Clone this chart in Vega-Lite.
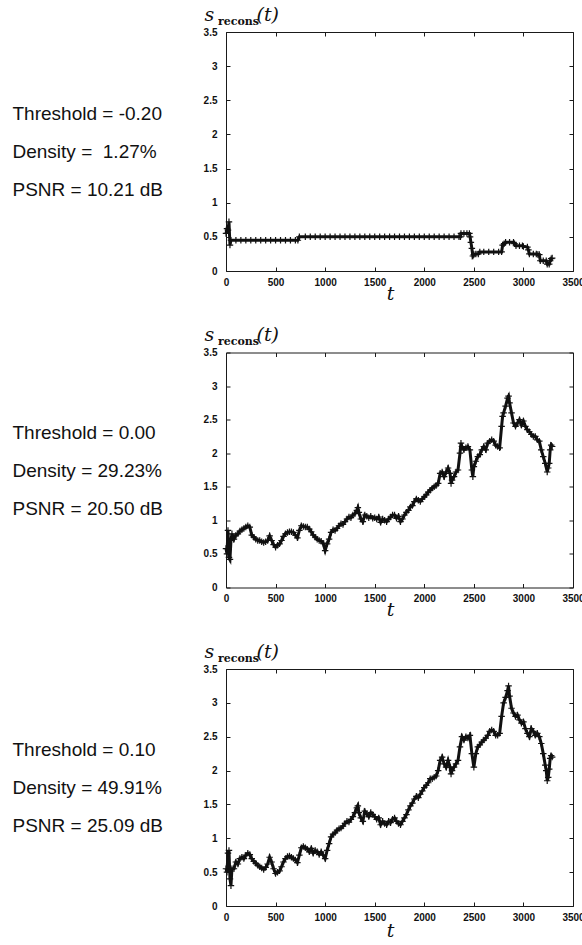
{
  "$schema": "https://vega.github.io/schema/vega-lite/v6.json",
  "background": "white",
  "padding": {"left": 11, "top": 4, "right": 0, "bottom": 0},
  "bounds": "flush",
  "spacing": 81.5,
  "config": {
    "view": {"stroke": "#1a1a1a", "strokeWidth": 1},
    "axis": {
      "domain": false, "grid": false, "ticks": true, "tickSize": -4, "tickColor": "#1a1a1a", "tickWidth": 1,
      "labelFont": "Liberation Sans", "labelFontWeight": "bold", "labelFontSize": 10, "labelColor": "#111",
      "labelFlush": false, "labelOverlap": false
    }
  },
  "datasets": {
    "s": [
      {"p":1,"t":0,"v":0.55},{"p":1,"t":10,"v":0.62},{"p":1,"t":20,"v":0.60},{"p":1,"t":30,"v":0.72},{"p":1,"t":40,"v":0.38},
      {"p":1,"t":50,"v":0.45},{"p":1,"t":100,"v":0.45},{"p":1,"t":150,"v":0.45},{"p":1,"t":200,"v":0.45},{"p":1,"t":250,"v":0.45},
      {"p":1,"t":300,"v":0.45},{"p":1,"t":350,"v":0.45},{"p":1,"t":400,"v":0.45},{"p":1,"t":450,"v":0.45},{"p":1,"t":500,"v":0.45},
      {"p":1,"t":550,"v":0.45},{"p":1,"t":600,"v":0.45},{"p":1,"t":650,"v":0.45},{"p":1,"t":700,"v":0.45},{"p":1,"t":725,"v":0.45},
      {"p":1,"t":740,"v":0.50},{"p":1,"t":800,"v":0.50},{"p":1,"t":850,"v":0.50},{"p":1,"t":900,"v":0.50},{"p":1,"t":950,"v":0.50},
      {"p":1,"t":1000,"v":0.50},{"p":1,"t":1050,"v":0.50},{"p":1,"t":1100,"v":0.50},{"p":1,"t":1150,"v":0.50},{"p":1,"t":1200,"v":0.50},
      {"p":1,"t":1250,"v":0.50},{"p":1,"t":1300,"v":0.50},{"p":1,"t":1350,"v":0.50},{"p":1,"t":1400,"v":0.50},{"p":1,"t":1450,"v":0.50},
      {"p":1,"t":1500,"v":0.50},{"p":1,"t":1550,"v":0.50},{"p":1,"t":1600,"v":0.50},{"p":1,"t":1650,"v":0.50},{"p":1,"t":1700,"v":0.50},
      {"p":1,"t":1750,"v":0.50},{"p":1,"t":1800,"v":0.50},{"p":1,"t":1850,"v":0.50},{"p":1,"t":1900,"v":0.50},{"p":1,"t":1950,"v":0.50},
      {"p":1,"t":2000,"v":0.50},{"p":1,"t":2050,"v":0.50},{"p":1,"t":2100,"v":0.50},{"p":1,"t":2150,"v":0.50},{"p":1,"t":2200,"v":0.50},
      {"p":1,"t":2250,"v":0.50},{"p":1,"t":2300,"v":0.50},{"p":1,"t":2350,"v":0.50},{"p":1,"t":2365,"v":0.50},
      {"p":1,"t":2370,"v":0.55},{"p":1,"t":2400,"v":0.55},{"p":1,"t":2430,"v":0.55},{"p":1,"t":2455,"v":0.55},
      {"p":1,"t":2462,"v":0.50},{"p":1,"t":2470,"v":0.42},{"p":1,"t":2480,"v":0.33},{"p":1,"t":2490,"v":0.22},{"p":1,"t":2500,"v":0.24},
      {"p":1,"t":2520,"v":0.25},{"p":1,"t":2545,"v":0.25},{"p":1,"t":2560,"v":0.28},{"p":1,"t":2600,"v":0.28},{"p":1,"t":2650,"v":0.28},
      {"p":1,"t":2700,"v":0.28},{"p":1,"t":2750,"v":0.28},{"p":1,"t":2780,"v":0.28},{"p":1,"t":2790,"v":0.38},{"p":1,"t":2805,"v":0.40},
      {"p":1,"t":2820,"v":0.42},{"p":1,"t":2860,"v":0.42},{"p":1,"t":2900,"v":0.42},{"p":1,"t":2910,"v":0.40},{"p":1,"t":2925,"v":0.37},
      {"p":1,"t":2960,"v":0.37},{"p":1,"t":2990,"v":0.37},{"p":1,"t":3000,"v":0.36},{"p":1,"t":3040,"v":0.35},{"p":1,"t":3050,"v":0.31},
      {"p":1,"t":3060,"v":0.25},{"p":1,"t":3100,"v":0.25},{"p":1,"t":3130,"v":0.25},{"p":1,"t":3145,"v":0.24},{"p":1,"t":3160,"v":0.24},
      {"p":1,"t":3170,"v":0.15},{"p":1,"t":3200,"v":0.15},{"p":1,"t":3230,"v":0.15},{"p":1,"t":3240,"v":0.10},{"p":1,"t":3260,"v":0.10},
      {"p":1,"t":3270,"v":0.15},{"p":1,"t":3280,"v":0.18},{"p":1,"t":3290,"v":0.19},

      {"p":2,"t":0,"v":0.58},{"p":2,"t":10,"v":0.50},{"p":2,"t":20,"v":0.85},{"p":2,"t":30,"v":0.45},{"p":2,"t":40,"v":0.42},
      {"p":2,"t":50,"v":0.70},{"p":2,"t":60,"v":0.80},{"p":2,"t":80,"v":0.72},{"p":2,"t":100,"v":0.78},{"p":2,"t":120,"v":0.80},
      {"p":2,"t":140,"v":0.84},{"p":2,"t":160,"v":0.86},{"p":2,"t":180,"v":0.88},{"p":2,"t":200,"v":0.90},{"p":2,"t":220,"v":0.92},
      {"p":2,"t":240,"v":0.90},{"p":2,"t":260,"v":0.78},{"p":2,"t":280,"v":0.75},{"p":2,"t":300,"v":0.72},{"p":2,"t":320,"v":0.70},
      {"p":2,"t":340,"v":0.70},{"p":2,"t":360,"v":0.68},{"p":2,"t":380,"v":0.67},{"p":2,"t":400,"v":0.68},{"p":2,"t":420,"v":0.70},
      {"p":2,"t":440,"v":0.77},{"p":2,"t":460,"v":0.70},{"p":2,"t":480,"v":0.64},{"p":2,"t":500,"v":0.60},{"p":2,"t":520,"v":0.63},
      {"p":2,"t":540,"v":0.65},{"p":2,"t":560,"v":0.70},{"p":2,"t":580,"v":0.76},{"p":2,"t":600,"v":0.80},{"p":2,"t":620,"v":0.82},
      {"p":2,"t":640,"v":0.83},{"p":2,"t":660,"v":0.83},{"p":2,"t":680,"v":0.82},{"p":2,"t":700,"v":0.78},{"p":2,"t":720,"v":0.74},
      {"p":2,"t":740,"v":0.85},{"p":2,"t":760,"v":0.92},{"p":2,"t":780,"v":0.91},{"p":2,"t":800,"v":0.90},{"p":2,"t":820,"v":0.90},
      {"p":2,"t":840,"v":0.87},{"p":2,"t":860,"v":0.83},{"p":2,"t":880,"v":0.78},{"p":2,"t":900,"v":0.75},{"p":2,"t":920,"v":0.72},
      {"p":2,"t":940,"v":0.70},{"p":2,"t":960,"v":0.69},{"p":2,"t":980,"v":0.66},{"p":2,"t":1000,"v":0.55},{"p":2,"t":1020,"v":0.65},
      {"p":2,"t":1040,"v":0.72},{"p":2,"t":1060,"v":0.82},{"p":2,"t":1080,"v":0.86},{"p":2,"t":1100,"v":0.85},{"p":2,"t":1120,"v":0.88},
      {"p":2,"t":1140,"v":0.92},{"p":2,"t":1160,"v":0.95},{"p":2,"t":1180,"v":0.94},{"p":2,"t":1200,"v":0.98},{"p":2,"t":1220,"v":1.02},
      {"p":2,"t":1240,"v":1.05},{"p":2,"t":1260,"v":1.04},{"p":2,"t":1280,"v":1.08},{"p":2,"t":1300,"v":1.10},{"p":2,"t":1320,"v":1.15},
      {"p":2,"t":1330,"v":1.19},{"p":2,"t":1340,"v":1.12},{"p":2,"t":1360,"v":1.02},{"p":2,"t":1380,"v":0.98},{"p":2,"t":1400,"v":1.08},
      {"p":2,"t":1420,"v":1.06},{"p":2,"t":1440,"v":1.04},{"p":2,"t":1460,"v":1.06},{"p":2,"t":1480,"v":1.03},{"p":2,"t":1500,"v":1.04},
      {"p":2,"t":1520,"v":1.02},{"p":2,"t":1540,"v":1.05},{"p":2,"t":1560,"v":0.97},{"p":2,"t":1580,"v":1.02},{"p":2,"t":1600,"v":1.00},
      {"p":2,"t":1620,"v":0.98},{"p":2,"t":1640,"v":1.02},{"p":2,"t":1660,"v":1.05},{"p":2,"t":1680,"v":1.08},{"p":2,"t":1700,"v":1.08},
      {"p":2,"t":1720,"v":1.03},{"p":2,"t":1740,"v":1.06},{"p":2,"t":1760,"v":0.98},{"p":2,"t":1780,"v":1.02},{"p":2,"t":1800,"v":1.08},
      {"p":2,"t":1820,"v":1.12},{"p":2,"t":1840,"v":1.15},{"p":2,"t":1860,"v":1.20},{"p":2,"t":1880,"v":1.22},{"p":2,"t":1900,"v":1.28},
      {"p":2,"t":1920,"v":1.32},{"p":2,"t":1940,"v":1.30},{"p":2,"t":1960,"v":1.28},{"p":2,"t":1980,"v":1.32},{"p":2,"t":2000,"v":1.35},
      {"p":2,"t":2020,"v":1.38},{"p":2,"t":2040,"v":1.42},{"p":2,"t":2060,"v":1.45},{"p":2,"t":2080,"v":1.48},{"p":2,"t":2100,"v":1.50},
      {"p":2,"t":2120,"v":1.52},{"p":2,"t":2140,"v":1.55},{"p":2,"t":2160,"v":1.70},{"p":2,"t":2180,"v":1.72},{"p":2,"t":2200,"v":1.65},
      {"p":2,"t":2220,"v":1.72},{"p":2,"t":2240,"v":1.78},{"p":2,"t":2260,"v":1.70},{"p":2,"t":2270,"v":1.55},{"p":2,"t":2280,"v":1.60},
      {"p":2,"t":2300,"v":1.65},{"p":2,"t":2320,"v":1.72},{"p":2,"t":2340,"v":1.75},{"p":2,"t":2360,"v":2.00},{"p":2,"t":2370,"v":2.15},
      {"p":2,"t":2380,"v":2.10},{"p":2,"t":2400,"v":2.05},{"p":2,"t":2420,"v":2.08},{"p":2,"t":2440,"v":2.10},{"p":2,"t":2460,"v":2.05},
      {"p":2,"t":2480,"v":1.75},{"p":2,"t":2490,"v":1.65},{"p":2,"t":2500,"v":1.80},{"p":2,"t":2520,"v":1.88},{"p":2,"t":2540,"v":1.95},
      {"p":2,"t":2560,"v":1.98},{"p":2,"t":2580,"v":2.05},{"p":2,"t":2600,"v":2.10},{"p":2,"t":2620,"v":2.05},{"p":2,"t":2640,"v":2.15},
      {"p":2,"t":2660,"v":2.18},{"p":2,"t":2680,"v":2.20},{"p":2,"t":2700,"v":2.18},{"p":2,"t":2720,"v":2.12},{"p":2,"t":2740,"v":2.10},
      {"p":2,"t":2760,"v":2.08},{"p":2,"t":2780,"v":2.40},{"p":2,"t":2790,"v":2.55},{"p":2,"t":2800,"v":2.60},{"p":2,"t":2820,"v":2.70},
      {"p":2,"t":2840,"v":2.82},{"p":2,"t":2850,"v":2.85},{"p":2,"t":2860,"v":2.75},{"p":2,"t":2880,"v":2.60},{"p":2,"t":2900,"v":2.45},
      {"p":2,"t":2920,"v":2.40},{"p":2,"t":2940,"v":2.45},{"p":2,"t":2960,"v":2.50},{"p":2,"t":2980,"v":2.42},{"p":2,"t":3000,"v":2.48},
      {"p":2,"t":3020,"v":2.40},{"p":2,"t":3040,"v":2.35},{"p":2,"t":3060,"v":2.32},{"p":2,"t":3080,"v":2.28},{"p":2,"t":3100,"v":2.25},
      {"p":2,"t":3120,"v":2.25},{"p":2,"t":3140,"v":2.20},{"p":2,"t":3160,"v":2.18},{"p":2,"t":3180,"v":2.05},{"p":2,"t":3200,"v":1.95},
      {"p":2,"t":3220,"v":1.85},{"p":2,"t":3240,"v":1.72},{"p":2,"t":3250,"v":1.78},{"p":2,"t":3260,"v":1.85},{"p":2,"t":3270,"v":2.05},
      {"p":2,"t":3280,"v":2.12},{"p":2,"t":3290,"v":2.10},

      {"p":3,"t":0,"v":0.55},{"p":3,"t":10,"v":0.50},{"p":3,"t":20,"v":0.78},{"p":3,"t":30,"v":0.82},{"p":3,"t":40,"v":0.40},
      {"p":3,"t":50,"v":0.30},{"p":3,"t":60,"v":0.55},{"p":3,"t":80,"v":0.55},{"p":3,"t":100,"v":0.65},{"p":3,"t":120,"v":0.62},
      {"p":3,"t":140,"v":0.70},{"p":3,"t":160,"v":0.72},{"p":3,"t":180,"v":0.70},{"p":3,"t":200,"v":0.75},{"p":3,"t":220,"v":0.78},
      {"p":3,"t":240,"v":0.76},{"p":3,"t":260,"v":0.70},{"p":3,"t":280,"v":0.66},{"p":3,"t":300,"v":0.63},{"p":3,"t":320,"v":0.60},
      {"p":3,"t":340,"v":0.58},{"p":3,"t":360,"v":0.56},{"p":3,"t":380,"v":0.54},{"p":3,"t":400,"v":0.57},{"p":3,"t":420,"v":0.62},
      {"p":3,"t":440,"v":0.72},{"p":3,"t":460,"v":0.65},{"p":3,"t":480,"v":0.55},{"p":3,"t":500,"v":0.48},{"p":3,"t":520,"v":0.50},
      {"p":3,"t":540,"v":0.52},{"p":3,"t":560,"v":0.58},{"p":3,"t":580,"v":0.65},{"p":3,"t":600,"v":0.70},{"p":3,"t":620,"v":0.73},
      {"p":3,"t":640,"v":0.74},{"p":3,"t":660,"v":0.72},{"p":3,"t":680,"v":0.70},{"p":3,"t":700,"v":0.68},{"p":3,"t":720,"v":0.64},
      {"p":3,"t":740,"v":0.75},{"p":3,"t":760,"v":0.86},{"p":3,"t":780,"v":0.88},{"p":3,"t":800,"v":0.86},{"p":3,"t":820,"v":0.84},
      {"p":3,"t":840,"v":0.80},{"p":3,"t":860,"v":0.85},{"p":3,"t":880,"v":0.78},{"p":3,"t":900,"v":0.82},{"p":3,"t":920,"v":0.80},
      {"p":3,"t":940,"v":0.76},{"p":3,"t":960,"v":0.80},{"p":3,"t":980,"v":0.75},{"p":3,"t":1000,"v":0.70},{"p":3,"t":1020,"v":0.82},
      {"p":3,"t":1040,"v":0.92},{"p":3,"t":1060,"v":1.02},{"p":3,"t":1080,"v":1.06},{"p":3,"t":1100,"v":1.08},{"p":3,"t":1120,"v":1.12},
      {"p":3,"t":1140,"v":1.14},{"p":3,"t":1160,"v":1.15},{"p":3,"t":1180,"v":1.18},{"p":3,"t":1200,"v":1.22},{"p":3,"t":1220,"v":1.25},
      {"p":3,"t":1240,"v":1.24},{"p":3,"t":1260,"v":1.28},{"p":3,"t":1280,"v":1.32},{"p":3,"t":1300,"v":1.38},{"p":3,"t":1320,"v":1.45},
      {"p":3,"t":1330,"v":1.48},{"p":3,"t":1340,"v":1.38},{"p":3,"t":1360,"v":1.30},{"p":3,"t":1380,"v":1.25},{"p":3,"t":1400,"v":1.40},
      {"p":3,"t":1420,"v":1.36},{"p":3,"t":1440,"v":1.32},{"p":3,"t":1460,"v":1.38},{"p":3,"t":1480,"v":1.35},{"p":3,"t":1500,"v":1.32},
      {"p":3,"t":1520,"v":1.28},{"p":3,"t":1540,"v":1.30},{"p":3,"t":1560,"v":1.20},{"p":3,"t":1580,"v":1.25},{"p":3,"t":1600,"v":1.22},
      {"p":3,"t":1620,"v":1.20},{"p":3,"t":1640,"v":1.25},{"p":3,"t":1660,"v":1.23},{"p":3,"t":1680,"v":1.28},{"p":3,"t":1700,"v":1.30},
      {"p":3,"t":1720,"v":1.25},{"p":3,"t":1740,"v":1.22},{"p":3,"t":1760,"v":1.20},{"p":3,"t":1780,"v":1.25},{"p":3,"t":1800,"v":1.30},
      {"p":3,"t":1820,"v":1.35},{"p":3,"t":1840,"v":1.42},{"p":3,"t":1860,"v":1.48},{"p":3,"t":1880,"v":1.52},{"p":3,"t":1900,"v":1.58},
      {"p":3,"t":1920,"v":1.62},{"p":3,"t":1940,"v":1.60},{"p":3,"t":1960,"v":1.65},{"p":3,"t":1980,"v":1.70},{"p":3,"t":2000,"v":1.75},
      {"p":3,"t":2020,"v":1.78},{"p":3,"t":2040,"v":1.82},{"p":3,"t":2060,"v":1.88},{"p":3,"t":2080,"v":1.88},{"p":3,"t":2100,"v":1.90},
      {"p":3,"t":2120,"v":1.92},{"p":3,"t":2140,"v":2.00},{"p":3,"t":2160,"v":2.15},{"p":3,"t":2180,"v":2.20},{"p":3,"t":2200,"v":2.10},
      {"p":3,"t":2220,"v":2.05},{"p":3,"t":2240,"v":2.15},{"p":3,"t":2260,"v":2.05},{"p":3,"t":2270,"v":1.95},{"p":3,"t":2280,"v":2.00},
      {"p":3,"t":2300,"v":2.05},{"p":3,"t":2320,"v":2.10},{"p":3,"t":2340,"v":2.15},{"p":3,"t":2360,"v":2.35},{"p":3,"t":2380,"v":2.50},
      {"p":3,"t":2400,"v":2.45},{"p":3,"t":2420,"v":2.50},{"p":3,"t":2440,"v":2.48},{"p":3,"t":2460,"v":2.52},{"p":3,"t":2480,"v":2.25},
      {"p":3,"t":2500,"v":2.05},{"p":3,"t":2520,"v":2.25},{"p":3,"t":2540,"v":2.35},{"p":3,"t":2560,"v":2.38},{"p":3,"t":2580,"v":2.42},
      {"p":3,"t":2600,"v":2.45},{"p":3,"t":2620,"v":2.48},{"p":3,"t":2640,"v":2.52},{"p":3,"t":2660,"v":2.58},{"p":3,"t":2680,"v":2.60},
      {"p":3,"t":2700,"v":2.58},{"p":3,"t":2720,"v":2.52},{"p":3,"t":2740,"v":2.52},{"p":3,"t":2760,"v":2.55},{"p":3,"t":2780,"v":2.80},
      {"p":3,"t":2800,"v":3.00},{"p":3,"t":2820,"v":3.08},{"p":3,"t":2840,"v":3.18},{"p":3,"t":2850,"v":3.25},{"p":3,"t":2860,"v":3.10},
      {"p":3,"t":2880,"v":2.92},{"p":3,"t":2900,"v":2.85},{"p":3,"t":2920,"v":2.80},{"p":3,"t":2940,"v":2.82},{"p":3,"t":2960,"v":2.75},
      {"p":3,"t":2980,"v":2.70},{"p":3,"t":3000,"v":2.72},{"p":3,"t":3020,"v":2.62},{"p":3,"t":3040,"v":2.55},{"p":3,"t":3060,"v":2.50},
      {"p":3,"t":3080,"v":2.62},{"p":3,"t":3100,"v":2.58},{"p":3,"t":3120,"v":2.52},{"p":3,"t":3140,"v":2.55},{"p":3,"t":3160,"v":2.50},
      {"p":3,"t":3180,"v":2.40},{"p":3,"t":3200,"v":2.25},{"p":3,"t":3220,"v":2.08},{"p":3,"t":3230,"v":2.00},{"p":3,"t":3240,"v":1.85},
      {"p":3,"t":3250,"v":1.90},{"p":3,"t":3260,"v":2.02},{"p":3,"t":3270,"v":2.18},{"p":3,"t":3280,"v":2.22},{"p":3,"t":3290,"v":2.20}
    ]
  },
  "vconcat": [
    {
      "width": 347, "height": 239,
      "data": {"name": "s"},
      "transform": [{"filter": "datum.p == 1"}],
      "title": {"text": "recons", "anchor": "start", "frame": "group", "font": "DejaVu Serif", "fontWeight": "bold", "fontSize": 11, "color": "#111", "baseline": "alphabetic", "offset": 0, "dx": -8, "dy": 30.5},
      "layer": [
        {
          "mark": {"type": "line", "color": "#111", "strokeWidth": 3},
          "encoding": {
            "x": {"field": "t", "type": "quantitative", "scale": {"domain": [0, 3500], "nice": false},
              "axis": {"orient": "bottom", "values": [0,500,1000,1500,2000,2500,3000,3500], "format": "d", "labelPadding": 10,
                "title": "t", "titleFont": "DejaVu Serif", "titleFontStyle": "italic", "titleFontWeight": "normal", "titleFontSize": 19, "titleColor": "#111",
                "titleX": 164, "titleY": 28, "titleAlign": "center", "titleBaseline": "alphabetic"}},
            "y": {"field": "v", "type": "quantitative", "scale": {"domain": [0, 3.5], "nice": false},
              "axis": {"orient": "left", "values": [0,0.5,1,1.5,2,2.5,3,3.5], "format": "~g", "labelPadding": 13,
                "title": ["Threshold = -0.20", "Density = \u00a01.27%", "PSNR = 10.21 dB"],
                "titleFont": "Liberation Sans", "titleFontSize": 19, "titleFontWeight": "normal", "titleColor": "#111", "titleAngle": 0,
                "titleAlign": "left", "titleBaseline": "middle", "titleLineHeight": 38, "titleX": -214, "titleY": 81.5}}
          }
        },
        {
          "mark": {"type": "point", "shape": "M-1,0H1M0,-1V1", "filled": false, "stroke": "#111", "strokeWidth": 1.2, "size": 42, "opacity": 1},
          "encoding": {
            "x": {"field": "t", "type": "quantitative", "scale": {"domain": [0, 3500], "nice": false},
              "axis": {"orient": "top", "values": [0,500,1000,1500,2000,2500,3000,3500], "labels": false,
                "title": "(t)", "titleFont": "DejaVu Serif", "titleFontStyle": "italic", "titleFontWeight": "normal", "titleFontSize": 19, "titleColor": "#111",
                "titleX": 30, "titleY": -12, "titleAlign": "left", "titleBaseline": "alphabetic"}},
            "y": {"field": "v", "type": "quantitative", "scale": {"domain": [0, 3.5], "nice": false},
              "axis": {"orient": "right", "values": [0,0.5,1,1.5,2,2.5,3,3.5], "labels": false,
                "title": "s", "titleFont": "DejaVu Serif", "titleFontStyle": "italic", "titleFontWeight": "normal", "titleFontSize": 19, "titleColor": "#111",
                "titleAngle": 0, "titleX": -369, "titleY": -12, "titleAlign": "left", "titleBaseline": "alphabetic"}}
          }
        }
      ],
      "resolve": {"axis": {"x": "independent", "y": "independent"}}
    },
    {
      "width": 347, "height": 235,
      "data": {"name": "s"},
      "transform": [{"filter": "datum.p == 2"}],
      "title": {"text": "recons", "anchor": "start", "frame": "group", "font": "DejaVu Serif", "fontWeight": "bold", "fontSize": 11, "color": "#111", "baseline": "alphabetic", "offset": 0, "dx": -8, "dy": 30.5},
      "layer": [
        {
          "mark": {"type": "line", "color": "#111", "strokeWidth": 3},
          "encoding": {
            "x": {"field": "t", "type": "quantitative", "scale": {"domain": [0, 3500], "nice": false},
              "axis": {"orient": "bottom", "values": [0,500,1000,1500,2000,2500,3000,3500], "format": "d", "labelPadding": 10,
                "title": "t", "titleFont": "DejaVu Serif", "titleFontStyle": "italic", "titleFontWeight": "normal", "titleFontSize": 19, "titleColor": "#111",
                "titleX": 164, "titleY": 28, "titleAlign": "center", "titleBaseline": "alphabetic"}},
            "y": {"field": "v", "type": "quantitative", "scale": {"domain": [0, 3.5], "nice": false},
              "axis": {"orient": "left", "values": [0,0.5,1,1.5,2,2.5,3,3.5], "format": "~g", "labelPadding": 13,
                "title": ["Threshold = 0.00", "Density = 29.23%", "PSNR = 20.50 dB"],
                "titleFont": "Liberation Sans", "titleFontSize": 19, "titleFontWeight": "normal", "titleColor": "#111", "titleAngle": 0,
                "titleAlign": "left", "titleBaseline": "middle", "titleLineHeight": 38, "titleX": -214, "titleY": 79.5}}
          }
        },
        {
          "mark": {"type": "point", "shape": "M-1,0H1M0,-1V1", "filled": false, "stroke": "#111", "strokeWidth": 1.2, "size": 42, "opacity": 1},
          "encoding": {
            "x": {"field": "t", "type": "quantitative", "scale": {"domain": [0, 3500], "nice": false},
              "axis": {"orient": "top", "values": [0,500,1000,1500,2000,2500,3000,3500], "labels": false,
                "title": "(t)", "titleFont": "DejaVu Serif", "titleFontStyle": "italic", "titleFontWeight": "normal", "titleFontSize": 19, "titleColor": "#111",
                "titleX": 30, "titleY": -12, "titleAlign": "left", "titleBaseline": "alphabetic"}},
            "y": {"field": "v", "type": "quantitative", "scale": {"domain": [0, 3.5], "nice": false},
              "axis": {"orient": "right", "values": [0,0.5,1,1.5,2,2.5,3,3.5], "labels": false,
                "title": "s", "titleFont": "DejaVu Serif", "titleFontStyle": "italic", "titleFontWeight": "normal", "titleFontSize": 19, "titleColor": "#111",
                "titleAngle": 0, "titleX": -369, "titleY": -12, "titleAlign": "left", "titleBaseline": "alphabetic"}}
          }
        }
      ],
      "resolve": {"axis": {"x": "independent", "y": "independent"}}
    },
    {
      "width": 347, "height": 237,
      "data": {"name": "s"},
      "transform": [{"filter": "datum.p == 3"}],
      "title": {"text": "recons", "anchor": "start", "frame": "group", "font": "DejaVu Serif", "fontWeight": "bold", "fontSize": 11, "color": "#111", "baseline": "alphabetic", "offset": 0, "dx": -8, "dy": 30.5},
      "layer": [
        {
          "mark": {"type": "line", "color": "#111", "strokeWidth": 3},
          "encoding": {
            "x": {"field": "t", "type": "quantitative", "scale": {"domain": [0, 3500], "nice": false},
              "axis": {"orient": "bottom", "values": [0,500,1000,1500,2000,2500,3000,3500], "format": "d", "labelPadding": 10,
                "title": "t", "titleFont": "DejaVu Serif", "titleFontStyle": "italic", "titleFontWeight": "normal", "titleFontSize": 19, "titleColor": "#111",
                "titleX": 164, "titleY": 30, "titleAlign": "center", "titleBaseline": "alphabetic"}},
            "y": {"field": "v", "type": "quantitative", "scale": {"domain": [0, 3.5], "nice": false},
              "axis": {"orient": "left", "values": [0,0.5,1,1.5,2,2.5,3,3.5], "format": "~g", "labelPadding": 13,
                "title": ["Threshold = 0.10", "Density = 49.91%", "PSNR = 25.09 dB"],
                "titleFont": "Liberation Sans", "titleFontSize": 19, "titleFontWeight": "normal", "titleColor": "#111", "titleAngle": 0,
                "titleAlign": "left", "titleBaseline": "middle", "titleLineHeight": 38, "titleX": -214, "titleY": 80.5}}
          }
        },
        {
          "mark": {"type": "point", "shape": "M-1,0H1M0,-1V1", "filled": false, "stroke": "#111", "strokeWidth": 1.2, "size": 42, "opacity": 1},
          "encoding": {
            "x": {"field": "t", "type": "quantitative", "scale": {"domain": [0, 3500], "nice": false},
              "axis": {"orient": "top", "values": [0,500,1000,1500,2000,2500,3000,3500], "labels": false,
                "title": "(t)", "titleFont": "DejaVu Serif", "titleFontStyle": "italic", "titleFontWeight": "normal", "titleFontSize": 19, "titleColor": "#111",
                "titleX": 30, "titleY": -12, "titleAlign": "left", "titleBaseline": "alphabetic"}},
            "y": {"field": "v", "type": "quantitative", "scale": {"domain": [0, 3.5], "nice": false},
              "axis": {"orient": "right", "values": [0,0.5,1,1.5,2,2.5,3,3.5], "labels": false,
                "title": "s", "titleFont": "DejaVu Serif", "titleFontStyle": "italic", "titleFontWeight": "normal", "titleFontSize": 19, "titleColor": "#111",
                "titleAngle": 0, "titleX": -369, "titleY": -12, "titleAlign": "left", "titleBaseline": "alphabetic"}}
          }
        }
      ],
      "resolve": {"axis": {"x": "independent", "y": "independent"}}
    }
  ]
}
